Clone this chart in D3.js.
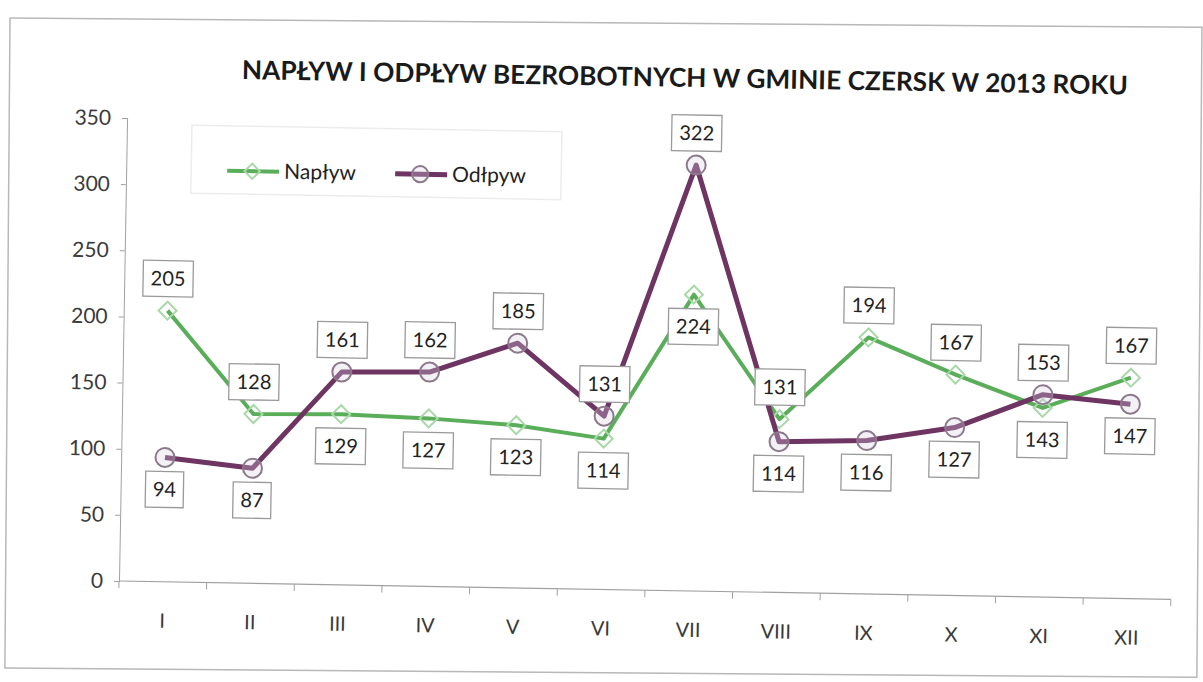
<!DOCTYPE html>
<html>
<head>
<meta charset="utf-8">
<script src="https://cdn.jsdelivr.net/npm/d3@7"></script>
<style>
  body { margin: 0; background: #fff; }
  text { font-family: Lato, "Open Sans", sans-serif; }
</style>
</head>
<body>
<div id="chart"></div>
<script>
// data
var months = ["I", "II", "III", "IV", "V", "VI", "VII", "VIII", "IX", "X", "XI", "XII"];
var naplyw = [205, 128, 129, 127, 123, 114, 224, 131, 194, 167, 143, 167];
var odplyw = [94, 87, 161, 162, 185, 131, 322, 114, 116, 127, 153, 147];
// label side per point: -1 above, 1 below
var naplywPos = [-1, -1, 1, 1, 1, 1, 1, -1, -1, -1, 1, -1];
var odplywPos = [1, 1, -1, -1, -1, -1, -1, 1, 1, 1, -1, 1];
var yTicks = [0, 50, 100, 150, 200, 250, 300, 350];
var title = "NAPŁYW I ODPŁYW BEZROBOTNYCH W GMINIE CZERSK W 2013 ROKU";

var W = 1203, H = 682;
var origin = {x: 119, y: 581};
var angle = 1.0; // scan is slightly tilted

var svg = d3.select("#chart").append("svg").attr("width", W).attr("height", H);

// chart frame (paper edge, tilted a bit less than the plot)
svg.append("rect").attr("x", 10).attr("y", 18).attr("width", 1192).attr("height", 650)
  .attr("transform", "rotate(0.45,10,18)")
  .style("fill", "none").style("stroke", "#b8b8b8").style("stroke-width", 1.5);

var g = svg.append("g")
  .attr("transform", "rotate(" + angle + "," + origin.x + "," + origin.y + ")");

var xScale = d3.scaleBand().domain(months).range([origin.x, 1171]);
var yScale = d3.scaleLinear().domain([0, 350]).range([origin.y, 118]);

// title
g.append("text").attr("x", 233).attr("y", 77)
  .attr("textLength", 886).attr("lengthAdjust", "spacingAndGlyphs")
  .style("font-size", "26px").style("font-weight", "bold").style("fill", "#1a1a1a")
  .text(title);

// axes
var yAxis = d3.axisLeft(yScale).tickValues(yTicks).tickSize(5).tickPadding(11);
var gy = g.append("g").attr("transform", "translate(" + origin.x + ",0)").call(yAxis);
gy.select(".domain").style("stroke", "#a0a0a0");
gy.selectAll(".tick line").style("stroke", "#a0a0a0");
gy.selectAll(".tick text").style("font-size", "21px").style("fill", "#3a3a3a")
  .style("font-family", "Lato, sans-serif");

var gx = g.append("g").attr("transform", "translate(0," + origin.y + ")");
gx.append("line").attr("x1", origin.x).attr("x2", xScale.range()[1])
  .style("stroke", "#a0a0a0").style("stroke-width", 1.2);
var bounds = months.map(function(m) { return xScale(m); }).concat([xScale.range()[1]]);
gx.selectAll("line.tk").data(bounds).enter().append("line").attr("class", "tk")
  .attr("x1", function(d) { return d; }).attr("x2", function(d) { return d; })
  .attr("y1", 0).attr("y2", 7).style("stroke", "#a0a0a0");
gx.selectAll("text").data(months).enter().append("text")
  .attr("x", function(d) { return xScale(d) + xScale.bandwidth() / 2; })
  .attr("y", 46).attr("text-anchor", "middle")
  .style("font-size", "20px").style("fill", "#3a3a3a")
  .text(function(d) { return d; });

var cx = function(d, i) { return xScale(months[i]) + xScale.bandwidth() / 2; };

var series = [
  {name: "Napływ", values: naplyw, pos: naplywPos, color: "#5aae5a", width: 4,
   marker: "diamond", mStroke: "#a8d8a8"},
  {name: "Odłpyw", values: odplyw, pos: odplywPos, color: "#6e3563", width: 5,
   marker: "circle", mStroke: "#8c7a8c"}
];

var line = d3.line().x(cx).y(function(d) { return yScale(d); });

function drawMarker(sel, s, x, y, k) {
  k = k || 1;
  if (s.marker === "diamond") {
    var r = 9 * k;
    sel.append("path")
      .attr("d", "M" + x + "," + (y - r) + "L" + (x + r) + "," + y + "L" + x + "," + (y + r) + "L" + (x - r) + "," + y + "Z")
      .style("fill", "none").style("stroke", s.mStroke).style("stroke-width", 2);
  } else {
    sel.append("circle").attr("cx", x).attr("cy", y).attr("r", 9.5 * k)
      .style("fill", "rgba(215,205,225,0.3)").style("stroke", s.mStroke).style("stroke-width", 2);
  }
}

series.forEach(function(s) {
  g.append("path").datum(s.values).attr("d", line)
    .style("fill", "none").style("stroke", s.color).style("stroke-width", s.width)
    .style("stroke-linejoin", "round");
  var mg = g.append("g");
  s.values.forEach(function(v, i) { drawMarker(mg, s, cx(v, i), yScale(v)); });
});

// data labels
series.forEach(function(s) {
  var lg = g.append("g");
  s.values.forEach(function(v, i) {
    var x = cx(v, i), y = yScale(v) + s.pos[i] * 32;
    var w = String(v).length > 2 ? 50 : 38;
    lg.append("rect").attr("x", x - w / 2).attr("y", y - 18).attr("width", w).attr("height", 36)
      .style("fill", "#fff").style("stroke", "#9a9a9a").style("stroke-width", 1.3);
    lg.append("text").attr("x", x).attr("y", y + 7).attr("text-anchor", "middle")
      .style("font-size", "20px").style("fill", "#222").text(v);
  });
});

// legend
var leg = g.append("g");
leg.append("rect").attr("x", 184).attr("y", 124).attr("width", 370).attr("height", 68)
  .style("fill", "#fff").style("stroke", "#ececec").style("stroke-width", 1.5);
series.forEach(function(s, i) {
  var lx = 220 + i * 168, ly = 169;
  leg.append("line").attr("x1", lx).attr("x2", lx + 52).attr("y1", ly).attr("y2", ly)
    .style("stroke", s.color).style("stroke-width", s.width);
  drawMarker(leg, s, lx + 25, ly, 0.85);
  leg.append("text").attr("x", lx + 57).attr("y", ly + 7)
    .style("font-size", "21px").style("fill", "#222").text(s.name);
});
</script>
</body>
</html>
